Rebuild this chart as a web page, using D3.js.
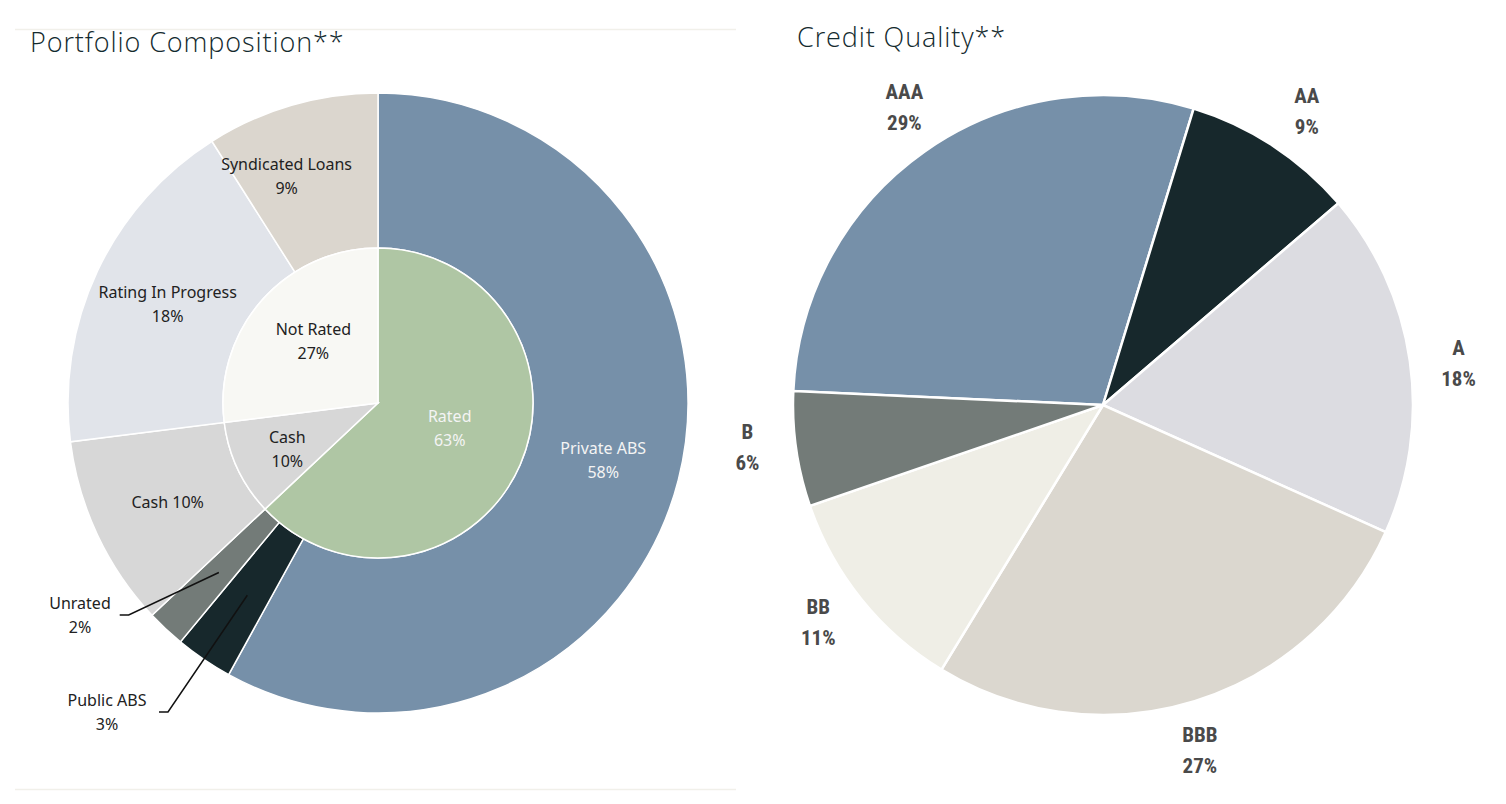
<!doctype html>
<html lang="en">
<head>
<meta charset="utf-8">
<title>Portfolio Composition | Credit Quality</title>
<script src="https://cdn.jsdelivr.net/npm/d3@7"></script>
<style>
    body { margin: 0; background: #fff; }
    svg { display: block; }
</style>
</head>
<body>
<script>
    // Portfolio composition, inner ring
    const innerNames = ["Rated", "Cash", "Not Rated"]
    const innerValues = [63, 10, 27]

    // Portfolio composition, outer ring
    const outerNames = ["Private ABS", "Public ABS", "Unrated", "Cash", "Rating In Progress", "Syndicated Loans"]
    const outerValues = [58, 3, 2, 10, 18, 9]

    // Credit quality
    const creditNames = ["AAA", "AA", "A", "BBB", "BB", "B"]
    const creditValues = [29, 9, 18, 27, 11, 6]

    const width = 1506, height = 804

    const innerColors = { "Rated": "#afc6a4", "Cash": "#d7d7d7", "Not Rated": "#f8f8f4" }
    const outerColors = {
        "Private ABS": "#7690a9", "Public ABS": "#17282c", "Unrated": "#737b78",
        "Cash": "#d7d7d7", "Rating In Progress": "#e1e4ea", "Syndicated Loans": "#dbd6ce"
    }
    const creditColors = {
        "AAA": "#7690a9", "AA": "#17282c", "A": "#dcdce1",
        "BBB": "#dbd7cf", "BB": "#efeee6", "B": "#737b78"
    }
    const lightText = new Set(["Rated", "Private ABS"])

    // label placement tweaks (radius in px, angle nudge in degrees)
    const innerLabelPos = { "Rated": [76, -4], "Cash": [102, -2], "Not Rated": [89, 2] }
    const outerLabelPos = { "Syndicated Loans": [244, -5.8] }

    const svg = d3.select("body").append("svg")
        .attr("width", width)
        .attr("height", height)

    // thin frame lines of the left panel
    svg.append("line").attr("x1", 15).attr("x2", 736).attr("y1", 29.5).attr("y2", 29.5)
        .attr("stroke", "#f1f0ea").attr("stroke-width", 1.5)
    svg.append("line").attr("x1", 15).attr("x2", 736).attr("y1", 789.5).attr("y2", 789.5)
        .attr("stroke", "#f1f0ea").attr("stroke-width", 1.5)

    const titleFont = "'Open Sans', 'Noto Sans', sans-serif"
    svg.append("text").attr("x", 30).attr("y", 52)
        .attr("font-family", titleFont).attr("font-size", 27).attr("font-weight", 300)
        .attr("letter-spacing", 0.9)
        .attr("fill", "#132a2e").text("Portfolio Composition**")
    svg.append("text").attr("x", 797).attr("y", 47)
        .attr("font-family", titleFont).attr("font-size", 27).attr("font-weight", 300)
        .attr("letter-spacing", 0.9)
        .attr("fill", "#132a2e").text("Credit Quality**")

    // ---------- left: two-ring donut ----------
    const cx1 = 378, cy1 = 403
    const rIn = 155, rOut = 310

    const pie = d3.pie().sort(null).value(d => d.value)

    const left = svg.append("g").attr("transform", `translate(${cx1},${cy1})`)
        .attr("font-family", "'Noto Sans', sans-serif").attr("font-size", 16)

    const outerData = pie(outerNames.map((n, i) => ({ name: n, value: outerValues[i] })))
    const innerData = pie(innerNames.map((n, i) => ({ name: n, value: innerValues[i] })))

    const outerArc = d3.arc().innerRadius(rIn).outerRadius(rOut)
    const innerArc = d3.arc().innerRadius(0).outerRadius(rIn)

    left.append("g").selectAll("path")
        .data(outerData)
        .join("path")
        .attr("d", outerArc)
        .attr("fill", d => outerColors[d.data.name])
        .attr("stroke", "#fff").attr("stroke-width", 1.5)

    left.append("g").selectAll("path")
        .data(innerData)
        .join("path")
        .attr("d", innerArc)
        .attr("fill", d => innerColors[d.data.name])
        .attr("stroke", "#fff").attr("stroke-width", 1.5)

    function twoLine(sel, a, b, color, gap, cap) {
        sel.attr("text-anchor", "middle").attr("fill", color)
        sel.append("tspan").attr("x", 0).attr("dy", -gap / 2 + cap / 2).text(a)
        sel.append("tspan").attr("x", 0).attr("dy", gap).text(b)
    }

    function polar(r, a) {
        return [r * Math.sin(a), -r * Math.cos(a)]
    }

    // labels inside the rings
    innerData.forEach(d => {
        const [r, nudge] = innerLabelPos[d.data.name]
        const a = (d.startAngle + d.endAngle) / 2 + nudge * Math.PI / 180
        const [x, y] = polar(r, a)
        const t = left.append("text").attr("transform", `translate(${x},${y})`)
        twoLine(t, d.data.name, d.data.value + "%", lightText.has(d.data.name) ? "#f4f4f4" : "#222", 24, 11)
    })

    // small slices get callouts outside the ring
    const callouts = {
        "Unrated": { x: -298, y: 212 },
        "Public ABS": { x: -271, y: 309 }
    }

    outerData.forEach(d => {
        const name = d.data.name
        const [x, y] = outerArc.centroid(d)
        if (callouts[name]) {
            const c = callouts[name]
            const half = name.length * 4.1
            const ex = c.x + half + 20
            left.append("path")
                .attr("d", d3.line()([[x, y], [ex, c.y], [ex - 9, c.y]]))
                .attr("fill", "none").attr("stroke", "#111").attr("stroke-width", 1.5)
            const t = left.append("text").attr("transform", `translate(${c.x},${c.y})`)
            twoLine(t, name, d.data.value + "%", "#222", 24, 11)
        } else if (name === "Cash") {
            left.append("text").attr("transform", `translate(${x},${y + 6})`)
                .attr("text-anchor", "middle").attr("fill", "#222")
                .text(name + " " + d.data.value + "%")
        } else {
            const [r, nudge] = outerLabelPos[name] || [(rIn + rOut) / 2, 0]
            const a = (d.startAngle + d.endAngle) / 2 + nudge * Math.PI / 180
            const [lx, ly] = polar(r, a)
            const t = left.append("text").attr("transform", `translate(${lx},${ly})`)
            twoLine(t, name, d.data.value + "%", lightText.has(name) ? "#f4f4f4" : "#222", 24, 11)
        }
    })

    // ---------- right: credit quality pie ----------
    const cx2 = 1103, cy2 = 405, r2 = 310
    const startDeg = -87.4
    const pie2 = d3.pie().sort(null).value(d => d.value)
        .startAngle(startDeg * Math.PI / 180)
        .endAngle((startDeg + 360) * Math.PI / 180)

    const creditData = pie2(creditNames.map((n, i) => ({ name: n, value: creditValues[i] })))
    const arc2 = d3.arc().innerRadius(0).outerRadius(r2)

    const right = svg.append("g").attr("transform", `translate(${cx2},${cy2})`)

    right.append("g").selectAll("path")
        .data(creditData)
        .join("path")
        .attr("d", arc2)
        .attr("fill", d => creditColors[d.data.name])
        .attr("stroke", "#fff").attr("stroke-width", 2.5)

    right.append("g")
        .attr("font-family", "'Roboto Condensed', 'Liberation Sans Narrow', Roboto, sans-serif")
        .attr("font-size", 21).attr("font-weight", "bold")
        .selectAll("text")
        .data(creditData)
        .join("text")
        .attr("transform", d => {
            const [x, y] = polar(358, (d.startAngle + d.endAngle) / 2 + 1.5 * Math.PI / 180)
            return `translate(${x},${y})`
        })
        .each(function (d) {
            twoLine(d3.select(this), d.data.name, d.data.value + "%", "#4a4a4a", 31, 15)
        })
</script>
</body>
</html>
